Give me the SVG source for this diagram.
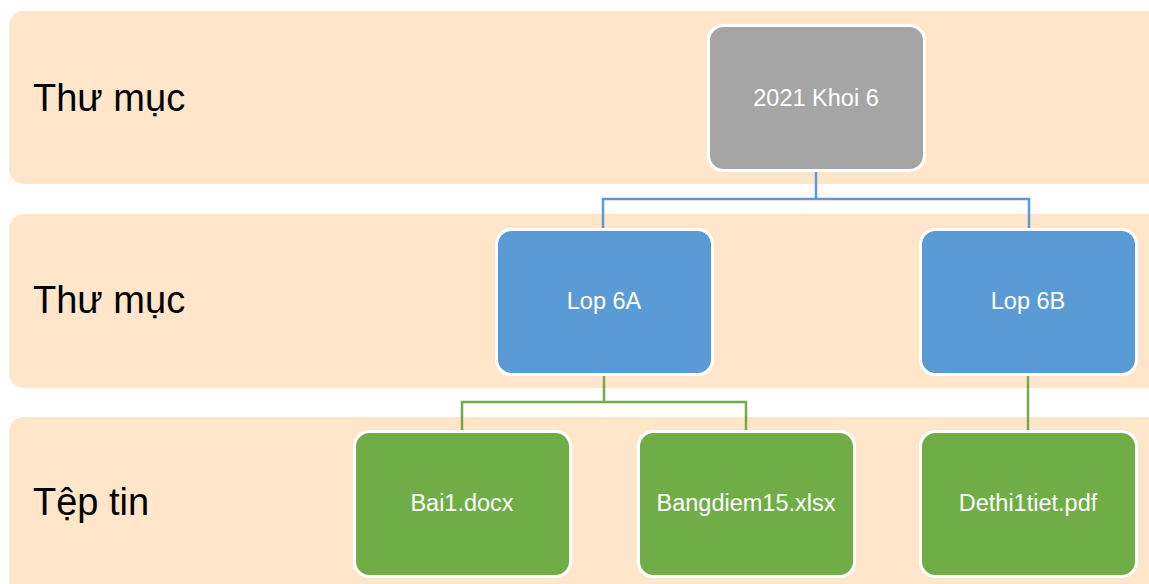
<svg xmlns="http://www.w3.org/2000/svg" width="1149" height="584" viewBox="0 0 1149 584">
<style>
.band{fill:#FFE6CB}
.bl{font-family:"Liberation Sans",Arial,sans-serif;font-size:38px;fill:#000}
.node rect{stroke:#fff;stroke-width:3}
.node text{font-family:"Liberation Sans",Arial,sans-serif;font-size:23.5px;fill:#fff;text-anchor:middle;dominant-baseline:central}
.gray{fill:#A5A5A5}.blue{fill:#5B9BD5}.green{fill:#70AD47}
.cb{fill:none;stroke:#5B9BD5;stroke-width:2.5}
.cg{fill:none;stroke:#70AD47;stroke-width:2.5}
</style>
<rect width="1149" height="584" fill="#fff"/>
<g id="bands">
<rect class="band" x="9" y="11" width="1160" height="173" rx="15"/>
<rect class="band" x="9" y="214" width="1160" height="174" rx="15"/>
<rect class="band" x="9" y="417" width="1160" height="190" rx="15"/>
<text class="bl" x="33" y="111">Thư mục</text>
<text class="bl" x="33" y="313">Thư mục</text>
<text class="bl" x="33" y="515">Tệp tin</text>
</g>
<g id="connectors">
<path class="cb" d="M816 170V199H603V230M816 199H1029V230"/>
<path class="cg" d="M604 374V402H462V431M604 402H746V431"/>
<path class="cg" d="M1028 374V431"/>
</g>
<g id="n1" class="node"><rect class="gray" x="708.5" y="25.5" width="216" height="145" rx="15"/><text x="816" y="98">2021 Khoi 6</text></g>
<g id="n2" class="node"><rect class="blue" x="496.5" y="229.5" width="216" height="145" rx="15"/><text x="604" y="301">Lop 6A</text></g>
<g id="n3" class="node"><rect class="blue" x="920.5" y="229.5" width="216" height="145" rx="15"/><text x="1028" y="301">Lop 6B</text></g>
<g id="n4" class="node"><rect class="green" x="354.5" y="431.5" width="216" height="145" rx="15"/><text x="462" y="503">Bai1.docx</text></g>
<g id="n5" class="node"><rect class="green" x="638.5" y="431.5" width="216" height="145" rx="15"/><text x="746" y="503">Bangdiem15.xlsx</text></g>
<g id="n6" class="node"><rect class="green" x="920.5" y="431.5" width="216" height="145" rx="15"/><text x="1028" y="503">Dethi1tiet.pdf</text></g>
</svg>
